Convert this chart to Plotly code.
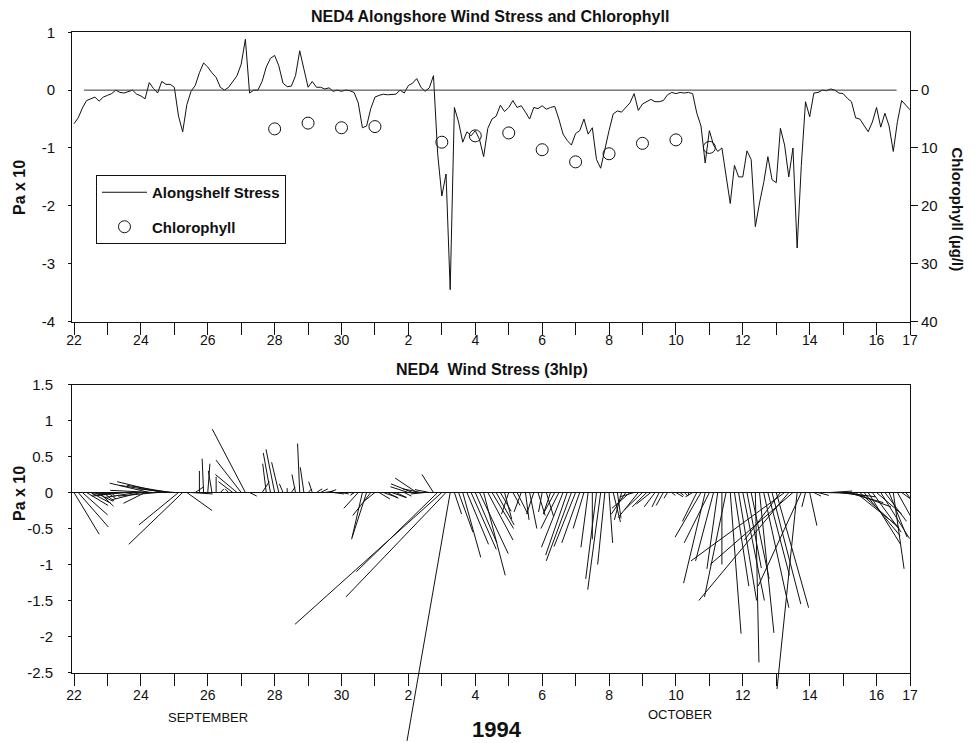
import plotly.graph_objects as go

# ---------------------------------------------------------------------------
# NED4 mooring, 22 Sep - 17 Oct 1994, 3-hourly low-passed wind stress (Pa x 10)
# time axis is in days since 22 Sep 1994 00:00
# ---------------------------------------------------------------------------
step_days = 0.125

alongshelf = [
    -0.58, -0.48, -0.31, -0.18, -0.15, -0.12, -0.19, -0.12,
    -0.09, -0.06, 0.00, -0.04, -0.05, -0.02, 0.00, -0.07,
    -0.10, -0.15, 0.13, 0.03, -0.05, 0.15, 0.10, 0.10,
    0.05, -0.45, -0.72, -0.25, -0.02, 0.08, 0.30, 0.47,
    0.40, 0.30, 0.22, 0.05, 0.00, 0.05, 0.15, 0.25,
    0.45, 0.88, -0.05, 0.00, 0.00, 0.15, 0.40, 0.55,
    0.60, 0.42, 0.12, 0.06, 0.07, 0.25, 0.68, 0.35,
    0.05, 0.15, 0.05, 0.05, 0.02, 0.04, -0.02, 0.00,
    -0.02, 0.00, -0.01, -0.04, -0.22, -0.65, -0.62, -0.32,
    -0.12, -0.09, -0.07, -0.08, -0.07, -0.07, 0.00, -0.05,
    0.08, 0.12, 0.20, 0.05, -0.02, 0.04, 0.25, -1.10,
    -1.83, -1.45, -3.45, -0.30, -0.55, -0.90, -0.72, -0.79,
    -0.70, -0.85, -1.15, -0.66, -0.50, -0.45, -0.26, -0.37,
    -0.30, -0.18, -0.30, -0.27, -0.38, -0.50, -0.30, -0.32,
    -0.27, -0.33, -0.30, -0.28, -0.50, -0.76, -0.87, -0.95,
    -0.75, -0.70, -0.50, -0.76, -0.65, -1.20, -1.35, -1.00,
    -0.70, -0.41, -0.36, -0.38, -0.30, -0.22, -0.06, -0.35,
    -0.24, -0.20, -0.16, -0.20, -0.20, -0.18, -0.08, -0.04,
    -0.06, -0.04, -0.05, -0.04, -0.06, -0.40, -0.62, -1.26,
    -0.70, -0.95, -1.06, -1.00, -1.45, -1.96, -1.30, -1.50,
    -1.50, -1.05, -1.20, -2.36, -1.95, -1.60, -1.15, -1.55,
    -1.60, -0.66, -0.95, -1.50, -1.00, -2.73, -1.30, -0.20,
    -0.46, -0.05, -0.04, 0.00, -0.01, 0.02, 0.00, -0.05,
    -0.06, -0.14, -0.20, -0.48, -0.50, -0.60, -0.72, -0.55,
    -0.30, -0.64, -0.40, -0.62, -1.06, -0.54, -0.18, -0.26,
    -0.34,
]

crossshelf = [
    0.35, 0.42, 0.35, 0.30, 0.28, 0.25, 0.20, 0.15,
    0.12, 0.05, -0.25, -0.35, -0.45, -0.50, -0.50, -0.45,
    -0.40, -0.30, -0.55, -0.60, -0.55, -0.62, -0.65, -0.60,
    -0.50, -0.55, -0.75, 0.35, 0.30, 0.12, 0.00, -0.02,
    0.03, -0.05, 0.00, 0.05, 0.05, -0.05, -0.20, -0.30,
    -0.35, -0.46, 0.10, 0.10, 0.05, 0.10, -0.05, -0.10,
    -0.12, -0.10, -0.05, 0.00, 0.05, -0.05, -0.03, -0.05,
    0.05, -0.05, 0.08, 0.10, 0.12, 0.10, 0.15, 0.12,
    0.10, 0.10, 0.05, -0.05, -0.20, -0.15, -0.20, -0.25,
    -0.15, 0.15, 0.20, 0.15, 0.20, 0.15, 0.15, 0.10,
    -0.25, -0.30, -0.30, -0.25, -0.20, -0.20, -0.16, -1.13,
    -2.04, -1.39, -0.60, 0.10, 0.20, 0.25, 0.30, 0.35,
    0.30, 0.40, 0.30, 0.35, 0.30, 0.25, 0.15, 0.10,
    -0.10, 0.10, 0.15, -0.10, 0.05, 0.10, -0.10, 0.10,
    -0.05, 0.10, -0.10, -0.15, -0.25, -0.30, -0.30, -0.35,
    -0.30, -0.25, -0.15, -0.10, 0.00, -0.15, -0.18, -0.10,
    0.05, 0.10, 0.05, -0.10, -0.20, -0.25, -0.20, -0.28,
    -0.25, -0.20, -0.20, -0.15, -0.10, -0.10, -0.05, 0.05,
    0.10, 0.05, 0.05, 0.00, -0.10, -0.20, -0.36, -0.30,
    -0.35, -0.25, -0.15, 0.00, -0.30, 0.15, 0.20, 0.25,
    0.30, 0.20, 0.25, 0.05, 0.20, 0.35, 0.30, 0.40,
    0.45, -0.50, -1.30, -1.25, -1.15, -0.28, -0.60, -0.05,
    0.10, 0.10, 0.15, 0.25, 0.30, 0.30, 0.35, 0.40,
    0.45, 0.50, 0.55, 0.60, 0.55, 0.50, 0.45, 0.40,
    0.35, 0.40, 0.30, 0.25, 0.15, 0.30, 0.25, 0.20,
    0.15,
]

# bottle chlorophyll samples (days since 22 Sep, ug/l)
chl_day = [6, 7, 8, 9, 11, 12, 13, 14, 15, 16, 17, 18, 19]
chl_value = [6.7, 5.7, 6.5, 6.3, 9.0, 7.9, 7.4, 10.3, 12.4, 11.0, 9.2, 8.6, 9.9]

# date axis: a tick every day, labelled every second day
day_ticks = list(range(0, 26))
day_labels = ["22", "", "24", "", "26", "", "28", "", "30", "", "2", "", "4", "",
              "6", "", "8", "", "10", "", "12", "", "14", "", "16", "17"]

stress_ticks = [1, 0, -1, -2, -3, -4]
stress_labels = ["1", "0", "-1", "-2", "-3", "-4"]
chl_ticks = [0, 10, 20, 30, 40]
stick_ticks = [1.5, 1, 0.5, 0, -0.5, -1, -1.5, -2, -2.5]
stick_labels = ["1.5", "1", "0.5", "0", "-0.5", "-1", "-1.5", "-2", "-2.5"]

# ---------------------------------------------------------------------------
# page geometry (pixels)
# ---------------------------------------------------------------------------
W, H = 977, 743
ML, MR = 72, 66.5
PW = W - ML - MR
X_RANGE = [-0.06, 25.0]
TOP_PX = (32.3, 321.5)      # top panel, y pixel span
BOT_PX = (384.5, 672.5)     # bottom panel, y pixel span
STICK_RANGE = [-2.5, 1.5]


def fx(px):
    return (px - ML) / PW


def fy(py):
    return 1 - py / H


top_dom = [fy(TOP_PX[1]), fy(TOP_PX[0])]
bot_dom = [fy(BOT_PX[1]), fy(BOT_PX[0])]

# free-floating axes for the stick vectors so that long sticks are not clipped
units_per_frac = (STICK_RANGE[1] - STICK_RANGE[0]) / (bot_dom[1] - bot_dom[0])
stick_full_range = [STICK_RANGE[0] - bot_dom[0] * units_per_frac,
                    STICK_RANGE[1] + (1 - bot_dom[1]) * units_per_frac]

# stick horizontal extent: one stress unit drawn with the same length as on y
px_per_day = PW / (X_RANGE[1] - X_RANGE[0])
px_per_unit = (BOT_PX[1] - BOT_PX[0]) / (STICK_RANGE[1] - STICK_RANGE[0])
days_per_unit = px_per_unit / px_per_day

times = [i * step_days for i in range(len(alongshelf))]
stick_x, stick_y = [], []
for t, u, v in zip(times, crossshelf, alongshelf):
    stick_x += [t, t + u * days_per_unit, None]
    stick_y += [0, v, None]

COND = "Liberation Sans, Arial, sans-serif"
REG = "Liberation Sans, Arial, sans-serif"
BLACK = "#111111"

fig = go.Figure()

fig.add_trace(go.Scatter(
    x=times, y=alongshelf, mode="lines",
    line=dict(color=BLACK, width=1),
    name="<b>Alongshelf Stress</b>", legendgroup="a",
    xaxis="x", yaxis="y",
))
fig.add_trace(go.Scatter(
    x=chl_day, y=chl_value, mode="markers",
    marker=dict(symbol="circle-open", size=12, color=BLACK, line=dict(width=1)),
    name="<b>Chlorophyll</b>", legendgroup="b",
    xaxis="x", yaxis="y2",
))
# empty trace that registers the lower panel's frame
fig.add_trace(go.Scatter(
    x=[], y=[], mode="lines", showlegend=False, hoverinfo="skip",
    xaxis="x2", yaxis="y3",
))
fig.add_trace(go.Scatter(
    x=stick_x, y=stick_y, mode="lines",
    line=dict(color=BLACK, width=1),
    showlegend=False, hoverinfo="skip",
    xaxis="x3", yaxis="y4",
))

# zero reference of the alongshelf series
fig.add_shape(type="line", xref="x", yref="y", x0=0.3, x1=24.6, y0=0, y1=0,
              line=dict(color="#333333", width=1))

tick_font = dict(family=REG, size=14, color=BLACK)
date_axis = dict(
    domain=[0, 1], range=X_RANGE, tickmode="array",
    tickvals=day_ticks, ticktext=day_labels,
    ticks="outside", ticklen=12, tickwidth=1, tickcolor=BLACK,
    showline=True, linecolor=BLACK, linewidth=1, mirror=True,
    showgrid=False, zeroline=False, tickfont=tick_font, automargin=False,
)

fig.update_layout(
    width=W, height=H, autosize=False,
    margin=dict(l=ML, r=MR, t=0, b=0, pad=0),
    paper_bgcolor="white", plot_bgcolor="rgba(0,0,0,0)",
    showlegend=True,
    xaxis=dict(date_axis, anchor="y", ticklabelstandoff=-6),
    yaxis=dict(
        domain=top_dom, anchor="x", range=[-4, 1],
        tickmode="array", tickvals=stress_ticks, ticktext=stress_labels,
        ticks="outside", ticklen=3, tickcolor=BLACK, ticklabelstandoff=10,
        showline=True, linecolor=BLACK, linewidth=1, automargin=False,
        showgrid=False, zeroline=False, tickfont=dict(family=REG, size=15, color=BLACK),
    ),
    yaxis2=dict(
        overlaying="y", side="right", anchor="x", range=[40, -10],
        tickmode="array", tickvals=chl_ticks,
        ticks="outside", ticklen=7, tickcolor=BLACK, automargin=False,
        showline=True, linecolor=BLACK, linewidth=1,
        showgrid=False, zeroline=False, tickfont=dict(family=REG, size=15, color=BLACK),
    ),
    xaxis2=dict(date_axis, anchor="y3", ticklabelstandoff=-2),
    yaxis3=dict(
        domain=bot_dom, anchor="x2", range=STICK_RANGE,
        tickmode="array", tickvals=stick_ticks, ticktext=stick_labels,
        ticks="outside", ticklen=3, tickcolor=BLACK, ticklabelstandoff=12,
        showline=True, linecolor=BLACK, linewidth=1, mirror=True, automargin=False,
        showgrid=False, zeroline=True, zerolinecolor=BLACK, zerolinewidth=1.2,
        tickfont=dict(family=REG, size=15, color=BLACK),
    ),
    xaxis3=dict(domain=[0, 1], range=X_RANGE, anchor="y4", visible=False,
                showgrid=False, zeroline=False, automargin=False),
    yaxis4=dict(domain=[0, 1], range=stick_full_range, anchor="x3", visible=False,
                showgrid=False, zeroline=False, automargin=False),
    legend=dict(
        x=fx(96), y=fy(175), xanchor="left", yanchor="top",
        bgcolor="white", bordercolor=BLACK, borderwidth=1,
        font=dict(family=COND, size=15, color=BLACK),
        traceorder="grouped", tracegroupgap=12, itemwidth=45,
    ),
)


def label(text, px, py, size, bold=False, angle=0, family=COND):
    fig.add_annotation(
        text=f"<b>{text}</b>" if bold else text,
        x=fx(px), y=fy(py), xref="paper", yref="paper",
        xanchor="center", yanchor="middle", showarrow=False, textangle=angle,
        font=dict(family=family, size=size, color=BLACK),
    )


label("NED4 Alongshore Wind Stress and Chlorophyll", 490, 16, 16, bold=True)
label("NED4\u00a0 Wind Stress (3hlp)", 492, 369, 16, bold=True)
label("Pa x 10", 19, 188, 16, bold=True, angle=-90)
label("Pa x 10", 19, 494, 16, bold=True, angle=-90)
label("Chlorophyll (\u00b5g/l)", 959, 210, 15, bold=True, angle=90)
label("SEPTEMBER", 208, 717, 13)
label("OCTOBER", 680, 714, 13)
label("1994", 497, 729, 22, bold=True)

fig.write_html("out.html")
